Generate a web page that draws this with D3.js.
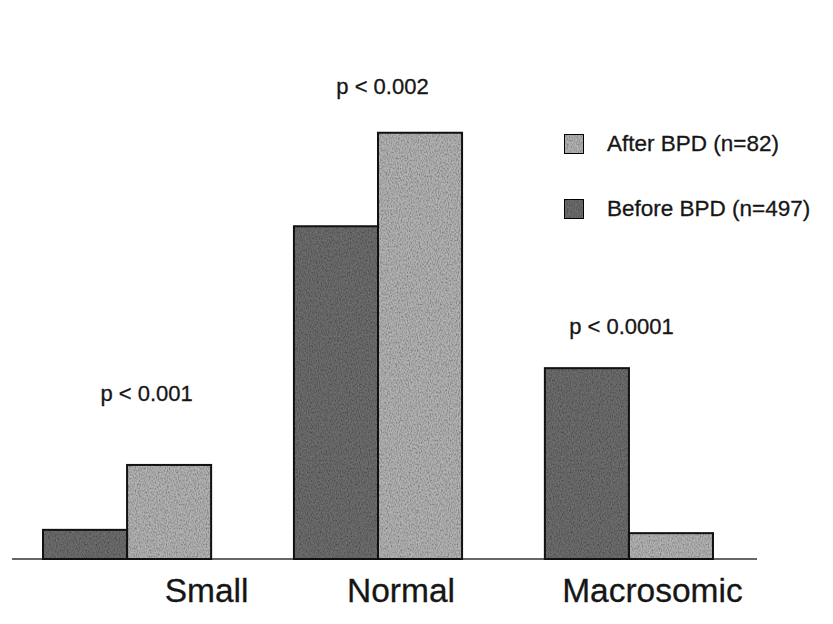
<!DOCTYPE html>
<html>
<head>
<meta charset="utf-8">
<script src="https://cdn.jsdelivr.net/npm/d3@7"></script>
<style>
  body { margin: 0; background: #fff; }
  svg { display: block; font-family: "Liberation Sans", Arial, sans-serif; }
</style>
</head>
<body>
<svg id="chart" width="833" height="624"></svg>
<script>
// Data (percent of cases)
const categories = ["Small", "Normal", "Macrosomic"];
const series = ["Before BPD (n=497)", "After BPD (n=82)"];
const beforeValues = [5.3, 60.5, 34.7];
const afterValues = [17.1, 77.5, 4.7];
const pLabels = ["p < 0.001", "p < 0.002", "p < 0.0001"];

// Constants
const svg = d3.select("#chart");
const baseY = 559;
const colors = ["#6d6d6d", "#b2b2b2"];
const textColor = "#161616";

// Scales
const x0 = d3.scaleBand().domain(categories).range([43, 713]).paddingInner(0.33);
const x1 = d3.scaleBand().domain([0, 1]).range([0, x0.bandwidth()]);
const y = d3.scaleLinear().domain([0, 100]).range([baseY, baseY - 550]);

// Grain texture like the scanned original
const defs = svg.append("defs");
const filter = defs.append("filter").attr("id", "grain").attr("x", 0).attr("y", 0).attr("width", 1).attr("height", 1);
filter.append("feTurbulence").attr("type", "fractalNoise").attr("baseFrequency", "0.9 0.5").attr("numOctaves", 2).attr("seed", 3).attr("result", "noise");
filter.append("feColorMatrix").attr("in", "noise").attr("type", "matrix")
  .attr("values", "0 0 0 0 0  0 0 0 0 0  0 0 0 0 0  0 0 0 -1.2 0.75").attr("result", "dots");
filter.append("feComposite").attr("in", "dots").attr("in2", "SourceGraphic").attr("operator", "in").attr("result", "grainy");
filter.append("feMerge").call((m) => {
  m.append("feMergeNode").attr("in", "SourceGraphic");
  m.append("feMergeNode").attr("in", "grainy");
});

// Baseline
svg.append("line")
  .attr("x1", 12).attr("x2", 757)
  .attr("y1", baseY).attr("y2", baseY)
  .attr("stroke", "#333").attr("stroke-width", 1.5);

// Bars
const groups = svg.selectAll(".group")
  .data(categories)
  .join("g")
  .attr("transform", (d) => `translate(${x0(d)},0)`);

groups.selectAll("rect")
  .data((d, i) => [beforeValues[i], afterValues[i]])
  .join("rect")
  .attr("x", (d, j) => x1(j))
  .attr("y", (d) => y(d))
  .attr("width", x1.bandwidth())
  .attr("height", (d) => baseY - y(d))
  .attr("fill", (d, j) => colors[j])
  .attr("filter", "url(#grain)");

groups.selectAll("rect.outline")
  .data((d, i) => [beforeValues[i], afterValues[i]])
  .join("rect")
  .attr("class", "outline")
  .attr("x", (d, j) => x1(j))
  .attr("y", (d) => y(d))
  .attr("width", x1.bandwidth())
  .attr("height", (d) => baseY - y(d))
  .attr("fill", "none")
  .attr("stroke", "#111")
  .attr("stroke-width", 2);

// p values above each group
const pOffsets = [19.5, 4.5, -7.5];
const pGaps = [64, 39, 34];
svg.selectAll(".pval")
  .data(pLabels)
  .join("text")
  .attr("x", (d, i) => x0(categories[i]) + x0.bandwidth() / 2 + pOffsets[i])
  .attr("y", (d, i) => y(Math.max(beforeValues[i], afterValues[i])) - pGaps[i])
  .attr("text-anchor", "middle")
  .attr("font-size", 22)
  .attr("fill", textColor)
  .attr("stroke", textColor).attr("stroke-width", 0.3)
  .text((d) => d);

// Category labels
const labelOffsets = [79.5, 23, 23.5];
svg.selectAll(".cat")
  .data(categories)
  .join("text")
  .attr("x", (d, i) => x0(d) + x0.bandwidth() / 2 + labelOffsets[i])
  .attr("y", 602)
  .attr("text-anchor", "middle")
  .attr("font-size", 33.5)
  .attr("fill", textColor)
  .attr("stroke", textColor).attr("stroke-width", 0.3)
  .text((d) => d);

// Legend (After first, then Before)
const legendOrder = [1, 0];
const legend = svg.selectAll(".legend")
  .data(legendOrder)
  .join("g")
  .attr("transform", (d, i) => `translate(564, ${134 + i * 65})`);

legend.append("rect")
  .attr("width", 20).attr("height", 20)
  .attr("fill", (d) => colors[d])
  .attr("stroke", "#111").attr("stroke-width", 2)
  .attr("filter", "url(#grain)");

legend.append("text")
  .attr("x", 43).attr("y", 16.5)
  .attr("font-size", 22.5)
  .attr("fill", textColor)
  .attr("stroke", textColor).attr("stroke-width", 0.3)
  .text((d) => series[d]);
</script>
</body>
</html>
